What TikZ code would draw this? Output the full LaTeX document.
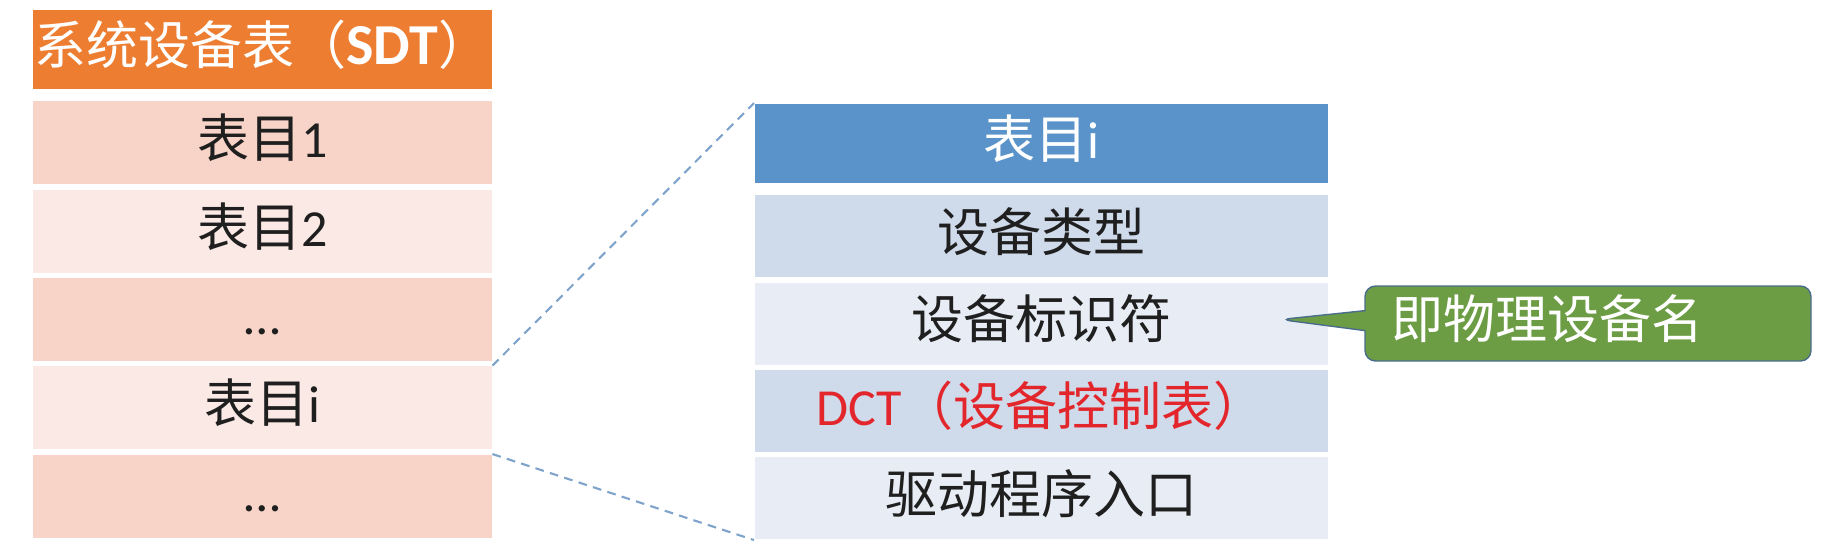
\documentclass[tikz,border=0pt]{standalone}
\usepackage{fontspec}
\setmainfont{Carlito}
\newfontfamily\cjk{Noto Sans CJK SC}
\usetikzlibrary{positioning,shapes.callouts}
\definecolor{cO}{HTML}{ED7D31}
\definecolor{cOa}{HTML}{F7D4C7}
\definecolor{cOb}{HTML}{FBE9E5}
\definecolor{cB}{HTML}{5A93C9}
\definecolor{cBa}{HTML}{CFDAEA}
\definecolor{cBb}{HTML}{E7ECF5}
\definecolor{cG}{HTML}{6C9C44}
\definecolor{cGl}{HTML}{4A6D8C}
\definecolor{cL}{HTML}{7FA3CB}
\definecolor{cR}{HTML}{E3262B}
\tikzset{
  cell/.style={inner sep=0pt,text=black!88,text height=0.45cm,text depth=0.15cm,
              font=\fontsize{14.8}{18}\selectfont},
  lcell/.style={cell,minimum width=4.59cm,minimum height=0.83cm},
  rcell/.style={cell,minimum width=5.73cm,minimum height=0.82cm},
  lhead/.style={lcell,fill=cO,text=white,minimum height=0.79cm},
  rhead/.style={rcell,fill=cB,text=white,minimum height=0.79cm},
  zoomline/.style={cL,semithick,dash pattern=on 2.5pt off 1.8pt},
  note/.style={rectangle callout,rounded corners=3pt,draw=cGl,fill=cG,
              text=white,inner xsep=0.26cm,inner ysep=0pt,text width=3.94cm,
              text height=0.45cm,text depth=0.15cm,
              align=left,minimum height=0.75cm,callout pointer width=0.2cm,
              font=\fontsize{14.8}{18}\selectfont},
}
\begin{document}
\begin{tikzpicture}
  \useasboundingbox (0,0) rectangle (18.48,-5.56);
  % system device table
  \node[lhead,anchor=north west](sdt) at (0.32,-0.09){{\cjk 系统设备表（}{\fontsize{16.5}{18}\selectfont\bfseries SDT}{\cjk ）}};
  \node[lcell,fill=cOa,below=0.11cm of sdt](l1){{\cjk 表目}1};
  \node[lcell,fill=cOb,below=0.04cm of l1](l2){{\cjk 表目}2};
  \node[lcell,fill=cOa,below=0.04cm of l2](l3){…};
  \node[lcell,fill=cOb,below=0.04cm of l3](l4){{\cjk 表目}i};
  \node[lcell,fill=cOa,below=0.04cm of l4](l5){…};
  % entry i
  \node[rhead,anchor=north west](ent) at (7.54,-1.03){{\cjk 表目}i};
  \node[rcell,fill=cBa,below=0.11cm of ent](d1){\cjk 设备类型};
  \node[rcell,fill=cBb,below=0.04cm of d1](d2){\cjk 设备标识符};
  \node[rcell,fill=cBa,below=0.04cm of d2,text=cR](d3){DCT{\cjk （设备控制表）}};
  \node[rcell,fill=cBb,below=0.04cm of d3](d4){\cjk 驱动程序入口};
  \draw[zoomline](l4.north east)--(ent.north west);
  \draw[zoomline](l5.north east)--(d4.south west);
  \node[note,callout absolute pointer={([xshift=-0.48cm,yshift=0.04cm]d2.east)}](nm)
    at (15.88,-3.235){\cjk 即物理设备名};
\end{tikzpicture}
\end{document}
